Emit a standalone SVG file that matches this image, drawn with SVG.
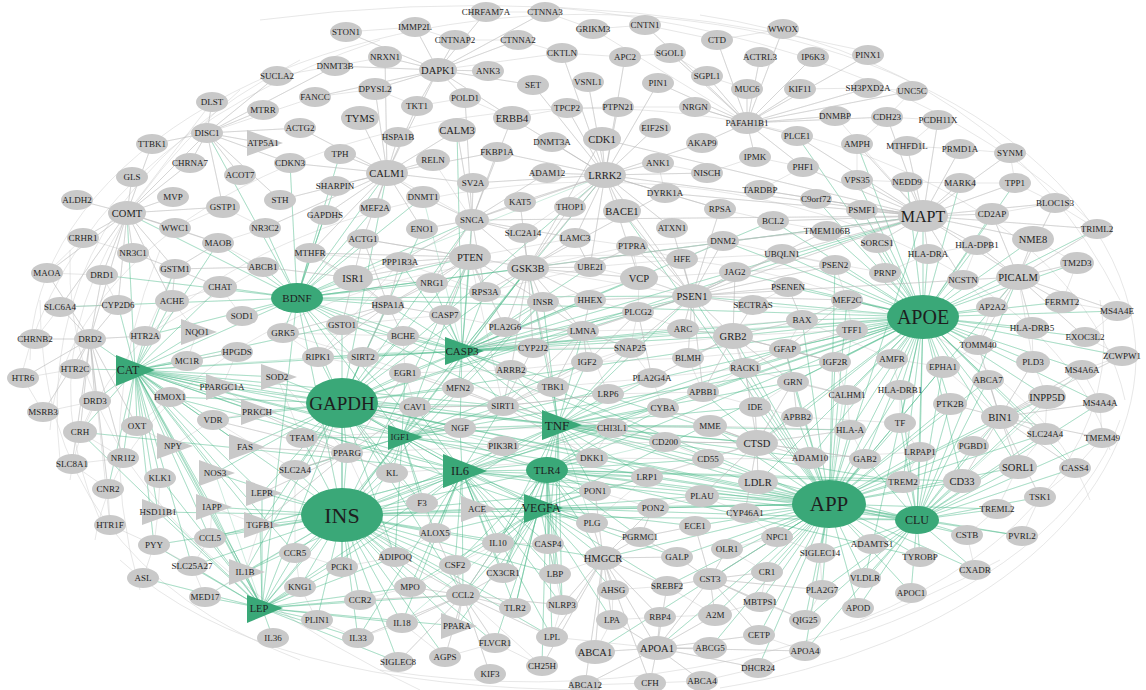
<svg xmlns="http://www.w3.org/2000/svg" width="1146" height="690" viewBox="0 0 1146 690">
<style>
.n ellipse,.n polygon{fill:#c9c9c9}
.h ellipse,.h polygon{fill:#3aa878}
text{font-family:"Liberation Serif","Times New Roman",serif;font-size:9px;text-anchor:middle;dominant-baseline:central;fill:#1e1e1e}
.m text{font-size:10.5px}
.g{fill:none;stroke:#4db88b;stroke-width:0.55;stroke-opacity:0.5;stroke-linejoin:round}
.e{fill:none;stroke:#b8b8b8;stroke-width:0.5;stroke-opacity:0.7;stroke-linejoin:round}
.a{fill:none;stroke:#d6d6d6;stroke-width:0.6}
</style>
<rect width="1146" height="690" fill="#ffffff"/>
<g id="connectors">
<path class="a" d="M30 360A552 345 0 0 1 1136 360"/>
<path class="a" d="M50 430A540 335 0 0 1 1125 400"/>
<path class="a" d="M70 480A525 325 0 0 1 1110 450"/>
<path class="a" d="M95 540A505 315 0 0 1 1090 500"/>
<path class="a" d="M1136 360A560 345 0 0 1 720 688"/>
<path class="a" d="M1120 420A540 320 0 0 1 840 640"/>
<path class="a" d="M1100 300A520 330 0 0 1 860 620"/>
<path class="a" d="M40 300Q40 560 300 660"/>
<path class="a" d="M70 250Q60 520 420 690"/>
<path class="a" d="M120 560Q260 690 600 690"/>
<path class="a" d="M20 380Q80 140 380 40"/>
<path class="a" d="M60 460Q30 200 300 60"/>
<path class="a" d="M100 520Q0 300 240 90"/>
<path class="a" d="M700 15Q1000 60 1120 300"/>
<path class="a" d="M560 8Q900 40 1100 230"/>
<path class="a" d="M260 20Q560 -20 860 50"/>
<path class="a" d="M140 590Q90 420 160 250"/>
<path class="a" d="M380 670Q700 720 1000 560"/>
<path class="g" d="M135 370L145 336L135 370L220 287L135 370L172 301L135 370L118 305L135 370L90 339L135 370L75 369L135 370L95 401L135 370L80 432L135 370L137 426L135 370L173 446L135 370L170 397L135 370L187 361L135 370L197 332L135 370L213 420L135 370L245 447L135 370L215 473L135 370L160 478L135 370L212 507L135 370L210 538L135 370L245 572L135 370L262 608L135 370L342 403L135 370L342 515L135 370L297 298L135 370L402 437L135 370L558 425L135 370L462 471L135 370L462 351L135 370L547 470L135 370L540 508L135 370L222 387L135 370L277 377L135 370L257 412L135 370L237 352L135 370L175 269L135 370L127 213L135 370L218 243L135 370L342 325L135 370L503 406L135 370L295 553L135 370L260 525L135 370L262 493L135 370L158 512L135 370L154 545L135 370L192 566L135 370L123 458L135 370L108 489L135 370L829 504L135 370L923 317"/>
<path class="g" d="M297 298L265 228L297 298L218 243L297 298L263 267L297 298L220 287L297 298L242 316L297 298L283 333L297 298L342 325L297 298L388 305L297 298L353 278L297 298L310 253L297 298L363 239L297 298L325 215L297 298L335 186L297 298L387 173L297 298L340 154L297 298L472 220L297 298L470 257L297 298L528 268L297 298L432 283L297 298L462 351L297 298L342 403L297 298L342 515L297 298L402 437L297 298L558 425L297 298L462 471L297 298L829 504L297 298L923 317L297 298L923 216L297 298L127 213L297 298L207 133L297 298L102 275L297 298L60 307L297 298L145 336L297 298L262 608L297 298L423 197L297 298L375 208L297 298L290 163L297 298L692 296L297 298L605 175"/>
<path class="g" d="M342 403L363 357L342 403L318 357L342 403L405 373L342 403L415 407L342 403L302 438L342 403L347 453L342 403L402 437L342 403L460 428L342 403L458 388L342 403L503 406L342 403L558 425L342 403L462 471L342 403L342 515L342 403L462 351L342 403L403 336L342 403L388 305L342 403L342 325L342 403L277 377L342 403L257 412L342 403L245 447L342 403L213 420L342 403L215 473L342 403L262 493L342 403L295 470L342 403L392 473L342 403L422 503L342 403L547 470L342 403L829 504L342 403L923 317L342 403L757 443L342 403L528 268L342 403L470 257L342 403L472 220L342 403L422 229L342 403L387 173L342 403L605 175L342 403L692 296L342 403L923 216L342 403L170 397L342 403L222 387L342 403L260 525L342 403L245 572L342 403L463 595L342 403L395 557L342 403L342 567L342 403L917 520L342 403L540 508L342 403L503 446"/>
<path class="g" d="M342 515L295 470L342 515L392 473L342 515L422 503L342 515L477 509L342 515L435 533L342 515L498 543L342 515L395 557L342 515L342 567L342 515L455 565L342 515L295 553L342 515L300 587L342 515L410 587L342 515L463 595L342 515L360 600L342 515L317 620L342 515L402 623L342 515L457 626L342 515L358 638L342 515L262 493L342 515L260 525L342 515L245 572L342 515L212 507L342 515L262 608L342 515L210 538L342 515L154 545L342 515L158 512L342 515L215 473L342 515L462 471L342 515L547 470L342 515L540 508L342 515L558 425L342 515L402 437L342 515L829 504L342 515L923 317L342 515L917 520L342 515L552 637L342 515L555 574L342 515L603 558L342 515L595 491L342 515L543 302L342 515L528 268L342 515L470 257L342 515L347 453L342 515L302 438L342 515L398 662L342 515L445 657L342 515L495 643L342 515L515 608L342 515L503 573L342 515L192 566L342 515L205 597"/>
<path class="g" d="M462 471L547 470L462 471L540 508L462 471L558 425L462 471L402 437L462 471L463 595L462 471L455 565L462 471L498 543L462 471L503 573L462 471L555 574L462 471L515 608L462 471L562 605L462 471L402 623L462 471L410 587L462 471L477 509L462 471L422 503L462 471L435 533L462 471L460 428L462 471L503 406L462 471L503 446L462 471L415 407L462 471L612 428L462 471L592 523L462 471L595 491L462 471L80 432L462 471L262 608L462 471L829 504L462 471L923 317L462 471L917 520L462 471L170 397L462 471L245 572L462 471L210 538L462 471L552 637L462 471L548 544L462 471L358 638L462 471L592 458L462 471L647 477L462 471L260 525"/>
<path class="g" d="M558 425L592 458L558 425L612 428L558 425L647 477L558 425L665 442L558 425L755 407L558 425L710 426L558 425L757 443L558 425L793 382L558 425L785 349L558 425L829 504L558 425L923 317L558 425L917 520L558 425L553 387L558 425L503 406L558 425L511 370L558 425L462 351L558 425L402 437L558 425L548 544L558 425L555 574L558 425L515 608L558 425L562 605L558 425L503 573L558 425L498 543L558 425L663 408L558 425L652 378L558 425L460 428L558 425L608 394L558 425L587 362L558 425L583 331L558 425L630 348L558 425L708 459L558 425L810 458L558 425L903 482L558 425L850 430L558 425L528 268L558 425L543 302L558 425L692 296L558 425L595 491L558 425L592 523"/>
<path class="g" d="M547 470L555 574L547 470L515 608L547 470L548 544L547 470L562 605L547 470L503 573L547 470L498 543L547 470L708 459L547 470L647 477L547 470L595 491L547 470L592 523L547 470L612 428L547 470L592 458L547 470L663 408L547 470L829 504L547 470L923 317L547 470L962 481L547 470L903 482L547 470L920 557L547 470L917 520L547 470L463 595L547 470L455 565L547 470L552 637L547 470L542 666L547 470L603 558L547 470L640 537L547 470L665 442"/>
<path class="g" d="M540 508L498 543L540 508L555 574L540 508L592 523L540 508L603 558L540 508L595 491L540 508L647 477L540 508L695 526L540 508L702 496L540 508L829 504L540 508L923 317L540 508L917 520L540 508L477 509L540 508L435 533L540 508L503 573L540 508L463 595L540 508L410 587L540 508L457 626L540 508L495 643L540 508L653 508L540 508L640 537L540 508L613 590L540 508L612 620L540 508L667 586L540 508L677 557L540 508L455 565L540 508L402 623"/>
<path class="g" d="M462 351L445 315L462 351L403 336L462 351L388 305L462 351L432 283L462 351L485 292L462 351L505 327L462 351L533 348L462 351L511 370L462 351L405 373L462 351L458 388L462 351L503 406L462 351L363 357L462 351L342 325L462 351L692 296L462 351L829 504L462 351L923 317L462 351L923 216L462 351L472 220L462 351L470 257L462 351L528 268L462 351L802 320L462 351L773 221L462 351L757 443L462 351L583 331L462 351L543 302L462 351L590 300L462 351L590 267L462 351L639 278L462 351L683 329L462 351L733 336L462 351L638 312L462 351L630 348L462 351L318 357L462 351L400 262L462 351L460 428L462 351L415 407L462 351L605 175L462 351L457 130L462 351L423 197"/>
<path class="g" d="M402 437L392 473L402 437L295 470L402 437L460 428L402 437L415 407L402 437L347 453L402 437L302 438L402 437L503 406L402 437L503 446L402 437L405 373L402 437L458 388L402 437L543 302L402 437L528 268L402 437L470 257L402 437L829 504L402 437L923 317L402 437L835 362L402 437L587 362L402 437L262 608L402 437L422 503L402 437L477 509L402 437L435 533L402 437L395 557L402 437L342 567"/>
<path class="g" d="M262 608L245 572L262 608L273 638L262 608L300 587L262 608L317 620L262 608L295 553L262 608L360 600L262 608L395 557L262 608L342 567L262 608L558 425L262 608L342 403L262 608L262 493L262 608L260 525L262 608L205 597L262 608L192 566L262 608L358 638L262 608L402 623L262 608L212 507L262 608L154 545L262 608L210 538L262 608L173 446L262 608L80 432L262 608L158 512L262 608L143 578L262 608L410 587L262 608L463 595L262 608L457 626L262 608L398 662L262 608L160 478L262 608L215 473"/>
<path class="g" d="M829 504L758 482L829 504L810 458L829 504L757 443L829 504L745 513L829 504L777 537L829 504L820 553L829 504L767 572L829 504L822 590L829 504L760 602L829 504L805 620L829 504L805 651L829 504L858 608L829 504L911 593L829 504L865 578L829 504L872 544L829 504L920 557L829 504L917 520L829 504L903 482L829 504L962 481L829 504L920 452L829 504L900 423L829 504L865 459L829 504L950 404L829 504L900 390L829 504L1000 417L829 504L1018 467L829 504L967 535L829 504L997 509L829 504L1018 277L829 504L923 317L829 504L692 296L829 504L835 265L829 504L622 211L829 504L923 216L829 504L793 382L829 504L703 392L829 504L797 417L829 504L755 407L829 504L710 426L829 504L702 496L829 504L727 549L829 504L710 579L829 504L715 615L829 504L759 635L829 504L758 668L829 504L647 477L829 504L835 362L829 504L847 395L829 504L850 430L829 504L733 336L829 504L745 368L829 504L695 526L829 504L653 508L829 504L677 557L829 504L667 586L829 504L603 558L829 504L595 652L829 504L657 648L829 504L710 648L829 504L988 380L829 504L943 367L829 504L973 446L829 504L1045 434L829 504L1047 397L829 504L1022 536L829 504L975 570L829 504L785 349L829 504L802 320L829 504L847 300L829 504L852 330"/>
<path class="g" d="M923 317L928 254L923 317L877 243L923 317L885 273L923 317L963 280L923 317L1018 277L923 317L992 307L923 317L978 345L923 317L892 359L923 317L943 367L923 317L900 390L923 317L977 245L923 317L1032 328L923 317L1062 302L923 317L1033 362L923 317L988 380L923 317L950 404L923 317L1000 417L923 317L900 423L923 317L917 520L923 317L923 216L923 317L692 296L923 317L835 265L923 317L788 287L923 317L847 300L923 317L852 330L923 317L835 362L923 317L785 349L923 317L802 320L923 317L782 254L923 317L827 231L923 317L816 199L923 317L857 180L923 317L907 182L923 317L862 210L923 317L992 214L923 317L960 183L923 317L758 482L923 317L757 443L923 317L810 458L923 317L733 336L923 317L1045 434L923 317L1047 397L923 317L1082 370L923 317L1100 403L923 317L903 482L923 317L962 481L923 317L1018 467L923 317L920 452L923 317L865 578L923 317L847 395L923 317L1097 229L923 317L1033 239L923 317L865 459L923 317L850 430L923 317L773 221L923 317L797 136L923 317L857 144L923 317L1015 183L923 317L1085 337L923 317L1117 311L923 317L1077 263L923 317L1122 356L923 317L1075 468L923 317L723 241L923 317L735 272L923 317L793 382L923 317L797 417L923 317L745 368L923 317L753 305"/>
<path class="g" d="M917 520L903 482L917 520L962 481L917 520L1018 467L917 520L1075 468L917 520L997 509L917 520L967 535L917 520L1022 536L917 520L920 557L917 520L911 593L917 520L975 570L917 520L865 578L917 520L872 544L917 520L858 608L917 520L1040 497L917 520L920 452L917 520L973 446L917 520L1000 417L917 520L1045 434L917 520L1102 438L917 520L1100 403L917 520L1047 397L917 520L950 404L917 520L900 390L917 520L900 423L917 520L805 651L917 520L805 620L917 520L822 590L917 520L820 553L917 520L865 459L917 520L988 380L917 520L943 367L917 520L1018 277L917 520L1082 370"/>
<path class="e" d="M923 216L862 210L923 216L907 182L923 216L960 183L923 216L992 214L923 216L857 180L923 216L816 199L923 216L827 231L923 216L760 190L923 216L803 167L923 216L1055 203L923 216L1015 183L923 216L1010 153L923 216L907 146L923 216L960 149L923 216L857 144L923 216L797 136L923 216L528 268L923 216L692 296L923 216L605 175L923 216L472 220L923 216L665 193L923 216L602 139L923 216L1018 277L923 216L963 280L923 216L928 254L923 216L977 245L923 216L877 243L923 216L1097 229L923 216L1033 239L923 216L782 254L923 216L773 221L923 216L887 117L923 216L938 120L923 216L835 116"/>
<path class="e" d="M605 175L602 139L605 175L655 128L605 175L658 163L605 175L665 193L605 175L622 211L605 175L570 207L605 175L547 173L605 175L552 142L605 175L618 107L605 175L588 82L605 175L625 57L605 175L567 108L605 175L472 220L605 175L528 268L605 175L692 296L605 175L639 278L605 175L520 202L605 175L672 228L605 175L720 209L605 175L707 173L605 175L702 143L605 175L658 83L605 175L562 53L605 175L533 85L605 175L512 118L605 175L497 152L605 175L473 183L605 175L590 267L605 175L575 238L605 175L523 233"/>
<path class="e" d="M387 173L340 154L387 173L398 137L387 173L360 118L387 173L433 160L387 173L473 183L387 173L423 197L387 173L335 186L387 173L375 208L387 173L325 215L387 173L422 229L387 173L300 128L387 173L290 163L387 173L417 106L387 173L375 89L387 173L457 130L387 173L497 152L387 173L385 57L387 173L438 70L387 173L280 200L387 173L265 228L387 173L363 239L387 173L310 253L387 173L472 220"/>
<path class="e" d="M472 220L520 202L472 220L523 233L472 220L422 229L472 220L423 197L472 220L473 183L472 220L470 257L472 220L400 262L472 220L432 283L472 220L485 292L472 220L528 268L472 220L575 238L472 220L547 173L472 220L497 152L472 220L457 130L472 220L465 98L472 220L512 118L472 220L433 160"/>
<path class="e" d="M127 213L77 200L127 213L132 177L127 213L173 197L127 213L175 228L127 213L83 238L127 213L133 253L127 213L102 275L127 213L47 273L127 213L175 269L127 213L218 243L127 213L223 207L127 213L152 144L127 213L190 163L127 213L207 133L127 213L60 307L127 213L118 305L127 213L90 339L127 213L172 301L127 213L212 102"/>
<path class="e" d="M207 133L212 102L207 133L263 110L207 133L152 144L207 133L190 163L207 133L263 143L207 133L240 175L207 133L277 76L207 133L300 128L207 133L290 163L207 133L223 207L207 133L280 200L207 133L335 66L207 133L315 97"/>
<path class="e" d="M692 296L835 265L692 296L788 287L692 296L682 259L692 296L735 272L692 296L639 278L692 296L683 329L692 296L733 336L692 296L638 312L692 296L753 305L692 296L688 358L692 296L630 348L692 296L590 300L692 296L723 241L692 296L782 254L692 296L632 246L692 296L963 280L692 296L703 392L692 296L720 209L692 296L672 228L692 296L622 211L692 296L847 300L692 296L827 231L692 296L583 331L692 296L528 268"/>
<path class="e" d="M757 443L755 407L757 443L710 426L757 443L708 459L757 443L810 458L757 443L758 482L757 443L745 513L757 443L797 417L757 443L745 368L757 443L793 382L757 443L665 442L757 443L663 408L757 443L850 430L757 443L865 459L757 443L702 496L757 443L647 477"/>
<path class="e" d="M733 336L785 349L733 336L802 320L733 336L745 368L733 336L688 358L733 336L683 329L733 336L703 392L733 336L753 305L733 336L735 272L733 336L835 362L733 336L652 378L733 336L793 382L733 336L755 407"/>
<path class="e" d="M1018 277L1033 239L1018 277L1077 263L1018 277L1062 302L1018 277L992 307L1018 277L1032 328L1018 277L963 280L1018 277L977 245L1018 277L992 214L1018 277L1055 203L1018 277L1097 229L1018 277L1117 311L1018 277L1085 337L1018 277L978 345L1018 277L1033 362"/>
<path class="e" d="M1000 417L1047 397L1000 417L1045 434L1000 417L1100 403L1000 417L1082 370L1000 417L1033 362L1000 417L988 380L1000 417L950 404L1000 417L973 446L1000 417L1018 467L1000 417L1075 468L1000 417L1102 438L1000 417L1122 356L1000 417L1040 497L1000 417L962 481L1000 417L978 345L1000 417L943 367"/>
<path class="e" d="M603 558L592 523L603 558L640 537L603 558L613 590L603 558L612 620L603 558L667 586L603 558L677 557L603 558L595 652L603 558L657 648L603 558L660 617L603 558L552 637L603 558L595 491L603 558L653 508L603 558L562 605L603 558L542 666L603 558L585 685L603 558L650 683L603 558L555 574"/>
<path class="e" d="M657 648L595 652L657 648L710 648L657 648L650 683L657 648L702 681L657 648L585 685L657 648L612 620L657 648L660 617L657 648L715 615L657 648L759 635L657 648L758 668L657 648L805 651L657 648L710 579L657 648L667 586L657 648L552 637"/>
<path class="e" d="M710 579L715 615L710 579L760 602L710 579L767 572L710 579L727 549L710 579L677 557L710 579L667 586L710 579L695 526L710 579L759 635L710 579L805 620L710 579L822 590L710 579L777 537"/>
<path class="e" d="M463 595L455 565L463 595L410 587L463 595L402 623L463 595L457 626L463 595L445 657L463 595L495 643L463 595L515 608L463 595L503 573L463 595L498 543L463 595L435 533L463 595L395 557L463 595L360 600L463 595L358 638L463 595L490 674L463 595L398 662L463 595L562 605L463 595L552 637L463 595L542 666"/>
<path class="e" d="M90 339L35 339L90 339L60 307L90 339L75 369L90 339L23 378L90 339L43 412L90 339L95 401L90 339L80 432L90 339L102 275L90 339L47 273L90 339L118 305L90 339L145 336L90 339L137 426L90 339L123 458L90 339L72 464L90 339L108 489L90 339L110 525"/>
<path class="e" d="M438 70L385 57L438 70L415 27L438 70L346 32L438 70L455 40L438 70L518 40L438 70L486 12L438 70L545 12L438 70L488 71L438 70L533 85L438 70L465 98L438 70L417 106L438 70L375 89L438 70L335 66L438 70L315 97L438 70L512 118L438 70L562 53"/>
<path class="e" d="M747 123L707 76L747 123L747 89L747 123L800 89L747 123L760 57L747 123L813 57L747 123L717 40L747 123L783 29L747 123L670 53L747 123L695 107L747 123L702 143L747 123L755 157L747 123L797 136L747 123L835 116L747 123L803 167L747 123L658 83L747 123L868 55L747 123L868 88L747 123L912 91L747 123L887 117L747 123L645 25L747 123L593 29"/>
<path class="e" d="M528 268L543 302L528 268L485 292L528 268L505 327L528 268L590 300L528 268L590 267L528 268L583 331L528 268L470 257L528 268L639 278L528 268L520 202L528 268L523 233L528 268L575 238L528 268L570 207L528 268L533 348L528 268L553 387L528 268L511 370L528 268L602 139L528 268L665 193L528 268L632 246"/>
<path class="e" d="M470 257L400 262L470 257L432 283L470 257L485 292L470 257L445 315L470 257L353 278L470 257L363 239L470 257L310 253L470 257L388 305L470 257L543 302L470 257L505 327L470 257L503 406"/>
<path class="e" d="M353 278L310 253L353 278L363 239L353 278L388 305L353 278L342 325L353 278L263 267L353 278L400 262L318 357L283 333L363 357L403 336L405 373L415 407L302 438L277 377L347 453L295 470L213 420L257 412L222 387L237 352L187 361L197 332L172 301L220 287L242 316"/>
<path class="e" d="M175 269L133 253L175 269L218 243L175 269L220 287L175 269L263 267L175 269L172 301L175 269L145 336L263 267L218 243L265 228L223 207L175 228L218 243M133 253L83 238L47 273L102 275L118 305L60 307L35 339M75 369L23 378L43 412L95 401L80 432L123 458L72 464L108 489L110 525L154 545L143 578M160 478L158 512L154 545L192 566L205 597L245 572L260 525L212 507L210 538L192 566M137 426L173 446L213 420M170 397L137 426"/>
<path class="e" d="M640 537L653 508L640 537L677 557L640 537L695 526L640 537L592 523L647 477L595 491L653 508L702 496L745 513L777 537L727 549L767 572L760 602L805 620L822 590L820 553L777 537M612 620L660 617L715 615L760 602M759 635L805 651L758 668L702 681L650 683L585 685M595 652L612 620L613 590L667 586L715 615"/>
<path class="e" d="M592 458L612 428L665 442L708 459L647 477M608 394L652 378L663 408L612 428M587 362L630 348L652 378M583 331L638 312L683 329M590 300L638 312L639 278L632 246L682 259L723 241L782 254L835 265L847 300L852 330L835 362L847 395L850 430L865 459M688 358L703 392L745 368L785 349L802 320L788 287L753 305"/>
<path class="e" d="M877 243L885 273L928 254L977 245L963 280L992 307L978 345L943 367L892 359L900 390L900 423L920 452L903 482M1033 239L1077 263L1062 302L1117 311L1085 337L1122 356L1082 370L1100 403L1102 438L1075 468L1040 497L1022 536M1032 328L1033 362L1047 397L1045 434L1018 467L997 509L967 535L975 570"/>
<path class="e" d="M800 89L868 88L912 91L887 117L938 120L907 146L960 149L1010 153L1015 183L960 183L907 182L857 180L857 144L887 117M1015 183L1055 203L1097 229M992 214L1055 203M816 199L760 190L803 167L755 157L707 173L658 163L665 193L720 209L773 221L827 231"/>
<path class="e" d="M486 12L545 12L593 29L645 25L717 40L783 29M346 32L415 27L455 40L518 40L562 53L625 57L670 53L707 76L747 89M277 76L335 66L385 57M315 97L375 89L417 106L465 98L512 118L567 108L618 107L695 107L747 123"/>
<path class="e" d="M295 553L300 587L317 620L358 638L402 623L445 657L495 643L542 666M360 600L410 587L455 565L498 543L548 544L555 574L562 605L552 637M295 470L295 553L342 567L395 557L435 533L422 503L392 473"/>
<path class="e" d="M363 239L470 257L575 238L632 246L723 241L827 231L877 243M310 253L400 262L485 292L590 267L682 259L782 254L885 273M353 278L432 283L543 302L639 278L735 272L835 265M342 325L445 315L505 327L583 331L683 329L802 320L892 359M283 333L403 336L533 348L630 348L733 336L852 330M318 357L405 373L511 370L587 362L688 358L785 349L835 362M363 357L458 388L553 387L652 378L745 368L847 395M415 407L503 406L608 394L703 392L797 417L900 423M302 438L460 428L612 428L710 426L850 430M347 453L503 446L665 442L757 443L865 459M392 473L592 458L708 459L810 458L920 452"/>
<path class="e" d="M503 406L553 387L503 406L608 394L503 406L612 428L503 406L460 428L503 406L458 388L503 406L511 370L503 406L533 348L503 406L405 373L503 406L415 407L503 406L592 458L503 406L583 331L503 406L587 362L503 406L630 348"/>
<path class="e" d="M347 453L302 438L347 453L295 470L347 453L392 473L347 453L415 407L347 453L405 373L347 453L262 493L347 453L213 420L347 453L257 412L347 453L245 447L347 453L260 525L347 453L395 557"/>
<path class="e" d="M388 305L342 325L388 305L403 336L388 305L432 283L388 305L400 262L388 305L445 315L388 305L363 357L388 305L318 357L388 305L283 333L388 305L363 239L388 305L310 253"/>
<path class="e" d="M583 331L533 348L583 331L587 362L583 331L630 348L583 331L590 300L583 331L543 302L583 331L505 327L583 331L553 387L583 331L608 394M638 312L587 362L638 312L652 378L638 312L630 348M590 267L575 238L590 267L632 246L590 267L639 278"/>
<path class="e" d="M785 349L835 362L785 349L793 382L785 349L847 300L785 349L852 330L785 349L745 368M802 320L847 300L802 320L788 287M793 382L797 417L793 382L847 395L793 382L755 407"/>
</g>
<g id="n-CHRFAM7A" class="n"><ellipse cx="486" cy="12" rx="16" ry="10"/><text x="486" y="12">CHRFAM7A</text></g>
<g id="n-CTNNA3" class="n"><ellipse cx="545" cy="12" rx="16" ry="10"/><text x="545" y="12">CTNNA3</text></g>
<g id="n-GRIKM3" class="n"><ellipse cx="593" cy="29" rx="16" ry="10"/><text x="593" y="29">GRIKM3</text></g>
<g id="n-CNTN1" class="n"><ellipse cx="645" cy="25" rx="16" ry="10"/><text x="645" y="25">CNTN1</text></g>
<g id="n-WWOX" class="n"><ellipse cx="783" cy="29" rx="16" ry="10"/><text x="783" y="29">WWOX</text></g>
<g id="n-IMMP2L" class="n"><ellipse cx="415" cy="27" rx="16" ry="10"/><text x="415" y="27">IMMP2L</text></g>
<g id="n-STON1" class="n"><ellipse cx="346" cy="32" rx="16" ry="10"/><text x="346" y="32">STON1</text></g>
<g id="n-CNTNAP2" class="n"><ellipse cx="455" cy="40" rx="16" ry="10"/><text x="455" y="40">CNTNAP2</text></g>
<g id="n-CTNNA2" class="n"><ellipse cx="518" cy="40" rx="16" ry="10"/><text x="518" y="40">CTNNA2</text></g>
<g id="n-CKTLN" class="n"><ellipse cx="562" cy="53" rx="16" ry="10"/><text x="562" y="53">CKTLN</text></g>
<g id="n-APC2" class="n"><ellipse cx="625" cy="57" rx="16" ry="10"/><text x="625" y="57">APC2</text></g>
<g id="n-SGOL1" class="n"><ellipse cx="670" cy="53" rx="16" ry="10"/><text x="670" y="53">SGOL1</text></g>
<g id="n-CTD" class="n"><ellipse cx="717" cy="40" rx="16" ry="10"/><text x="717" y="40">CTD</text></g>
<g id="n-ACTRL3" class="n"><ellipse cx="760" cy="57" rx="16" ry="10"/><text x="760" y="57">ACTRL3</text></g>
<g id="n-IP6K3" class="n"><ellipse cx="813" cy="57" rx="16" ry="10"/><text x="813" y="57">IP6K3</text></g>
<g id="n-PINX1" class="n"><ellipse cx="868" cy="55" rx="16" ry="10"/><text x="868" y="55">PINX1</text></g>
<g id="n-SGPL1" class="n"><ellipse cx="707" cy="76" rx="16" ry="10"/><text x="707" y="76">SGPL1</text></g>
<g id="n-MUC6" class="n"><ellipse cx="747" cy="89" rx="16" ry="10"/><text x="747" y="89">MUC6</text></g>
<g id="n-KIF11" class="n"><ellipse cx="800" cy="89" rx="16" ry="10"/><text x="800" y="89">KIF11</text></g>
<g id="n-SH3PXD2A" class="n"><ellipse cx="868" cy="88" rx="16" ry="10"/><text x="868" y="88">SH3PXD2A</text></g>
<g id="n-UNC5C" class="n"><ellipse cx="912" cy="91" rx="16" ry="10"/><text x="912" y="91">UNC5C</text></g>
<g id="n-VSNL1" class="n"><ellipse cx="588" cy="82" rx="16" ry="10"/><text x="588" y="82">VSNL1</text></g>
<g id="n-PIN1" class="n"><ellipse cx="658" cy="83" rx="16" ry="10"/><text x="658" y="83">PIN1</text></g>
<g id="n-SET" class="n"><ellipse cx="533" cy="85" rx="16" ry="10"/><text x="533" y="85">SET</text></g>
<g id="n-ANK3" class="n"><ellipse cx="488" cy="71" rx="16" ry="10"/><text x="488" y="71">ANK3</text></g>
<g id="n-DAPK1" class="n m"><ellipse cx="438" cy="70" rx="19" ry="12"/><text x="438" y="70">DAPK1</text></g>
<g id="n-NRXN1" class="n"><ellipse cx="385" cy="57" rx="17" ry="11"/><text x="385" y="57">NRXN1</text></g>
<g id="n-DNMT3B" class="n"><ellipse cx="335" cy="66" rx="16" ry="10"/><text x="335" y="66">DNMT3B</text></g>
<g id="n-SUCLA2" class="n"><ellipse cx="277" cy="76" rx="16" ry="10"/><text x="277" y="76">SUCLA2</text></g>
<g id="n-FANCC" class="n"><ellipse cx="315" cy="97" rx="16" ry="10"/><text x="315" y="97">FANCC</text></g>
<g id="n-DPYSL2" class="n"><ellipse cx="375" cy="89" rx="17" ry="11"/><text x="375" y="89">DPYSL2</text></g>
<g id="n-POLD1" class="n"><ellipse cx="465" cy="98" rx="16" ry="10"/><text x="465" y="98">POLD1</text></g>
<g id="n-TKT1" class="n"><ellipse cx="417" cy="106" rx="16" ry="10"/><text x="417" y="106">TKT1</text></g>
<g id="n-ERBB4" class="n m"><ellipse cx="512" cy="118" rx="19" ry="12"/><text x="512" y="118">ERBB4</text></g>
<g id="n-TPCP2" class="n"><ellipse cx="567" cy="108" rx="16" ry="10"/><text x="567" y="108">TPCP2</text></g>
<g id="n-PTPN21" class="n"><ellipse cx="618" cy="107" rx="16" ry="10"/><text x="618" y="107">PTPN21</text></g>
<g id="n-NRGN" class="n"><ellipse cx="695" cy="107" rx="16" ry="10"/><text x="695" y="107">NRGN</text></g>
<g id="n-PAFAH1B1" class="n"><ellipse cx="747" cy="123" rx="17" ry="11"/><text x="747" y="123">PAFAH1B1</text></g>
<g id="n-DNMBP" class="n"><ellipse cx="835" cy="116" rx="16" ry="10"/><text x="835" y="116">DNMBP</text></g>
<g id="n-CDH23" class="n"><ellipse cx="887" cy="117" rx="16" ry="10"/><text x="887" y="117">CDH23</text></g>
<g id="n-PCDH11X" class="n"><ellipse cx="938" cy="120" rx="16" ry="10"/><text x="938" y="120">PCDH11X</text></g>
<g id="n-SYNM" class="n"><ellipse cx="1010" cy="153" rx="16" ry="10"/><text x="1010" y="153">SYNM</text></g>
<g id="n-TPP1" class="n"><ellipse cx="1015" cy="183" rx="16" ry="10"/><text x="1015" y="183">TPP1</text></g>
<g id="n-MTHFD1L" class="n"><ellipse cx="907" cy="146" rx="16" ry="10"/><text x="907" y="146">MTHFD1L</text></g>
<g id="n-PRMD1A" class="n"><ellipse cx="960" cy="149" rx="16" ry="10"/><text x="960" y="149">PRMD1A</text></g>
<g id="n-AMPH" class="n"><ellipse cx="857" cy="144" rx="16" ry="10"/><text x="857" y="144">AMPH</text></g>
<g id="n-PLCE1" class="n"><ellipse cx="797" cy="136" rx="16" ry="10"/><text x="797" y="136">PLCE1</text></g>
<g id="n-EIF2S1" class="n"><ellipse cx="655" cy="128" rx="16" ry="10"/><text x="655" y="128">EIF2S1</text></g>
<g id="n-CDK1" class="n m"><ellipse cx="602" cy="139" rx="19" ry="12"/><text x="602" y="139">CDK1</text></g>
<g id="n-AKAP9" class="n"><ellipse cx="702" cy="143" rx="16" ry="10"/><text x="702" y="143">AKAP9</text></g>
<g id="n-IPMK" class="n"><ellipse cx="755" cy="157" rx="16" ry="10"/><text x="755" y="157">IPMK</text></g>
<g id="n-PHF1" class="n"><ellipse cx="803" cy="167" rx="16" ry="10"/><text x="803" y="167">PHF1</text></g>
<g id="n-ANK1" class="n"><ellipse cx="658" cy="163" rx="16" ry="10"/><text x="658" y="163">ANK1</text></g>
<g id="n-NISCH" class="n"><ellipse cx="707" cy="173" rx="16" ry="10"/><text x="707" y="173">NISCH</text></g>
<g id="n-LRRK2" class="n m"><ellipse cx="605" cy="175" rx="21" ry="13"/><text x="605" y="175">LRRK2</text></g>
<g id="n-DYRK1A" class="n"><ellipse cx="665" cy="193" rx="16" ry="10"/><text x="665" y="193">DYRK1A</text></g>
<g id="n-TARDBP" class="n"><ellipse cx="760" cy="190" rx="16" ry="10"/><text x="760" y="190">TARDBP</text></g>
<g id="n-C9orf72" class="n"><ellipse cx="816" cy="199" rx="16" ry="10"/><text x="816" y="199">C9orf72</text></g>
<g id="n-VPS35" class="n"><ellipse cx="857" cy="180" rx="16" ry="10"/><text x="857" y="180">VPS35</text></g>
<g id="n-NEDD9" class="n"><ellipse cx="907" cy="182" rx="16" ry="10"/><text x="907" y="182">NEDD9</text></g>
<g id="n-MARK4" class="n"><ellipse cx="960" cy="183" rx="16" ry="10"/><text x="960" y="183">MARK4</text></g>
<g id="n-PSMF1" class="n"><ellipse cx="862" cy="210" rx="16" ry="10"/><text x="862" y="210">PSMF1</text></g>
<g id="n-MAPT" class="n"><ellipse cx="923" cy="216" rx="25" ry="16"/><text x="923" y="216" style="font-size:16px">MAPT</text></g>
<g id="n-CD2AP" class="n"><ellipse cx="992" cy="214" rx="17" ry="11"/><text x="992" y="214">CD2AP</text></g>
<g id="n-BLOC1S3" class="n"><ellipse cx="1055" cy="203" rx="16" ry="10"/><text x="1055" y="203">BLOC1S3</text></g>
<g id="n-TRIML2" class="n"><ellipse cx="1097" cy="229" rx="16" ry="10"/><text x="1097" y="229">TRIML2</text></g>
<g id="n-BACE1" class="n m"><ellipse cx="622" cy="211" rx="19" ry="12"/><text x="622" y="211">BACE1</text></g>
<g id="n-RPSA" class="n"><ellipse cx="720" cy="209" rx="16" ry="10"/><text x="720" y="209">RPSA</text></g>
<g id="n-BCL2" class="n"><ellipse cx="773" cy="221" rx="16" ry="10"/><text x="773" y="221">BCL2</text></g>
<g id="n-TMEM106B" class="n"><ellipse cx="827" cy="231" rx="16" ry="10"/><text x="827" y="231">TMEM106B</text></g>
<g id="n-THOP1" class="n"><ellipse cx="570" cy="207" rx="16" ry="10"/><text x="570" y="207">THOP1</text></g>
<g id="n-ATXN1" class="n"><ellipse cx="672" cy="228" rx="16" ry="10"/><text x="672" y="228">ATXN1</text></g>
<g id="n-KAT5" class="n"><ellipse cx="520" cy="202" rx="16" ry="10"/><text x="520" y="202">KAT5</text></g>
<g id="n-SLC2A14" class="n"><ellipse cx="523" cy="233" rx="16" ry="10"/><text x="523" y="233">SLC2A14</text></g>
<g id="n-ADAM12" class="n"><ellipse cx="547" cy="173" rx="16" ry="10"/><text x="547" y="173">ADAM12</text></g>
<g id="n-DNMT3A" class="n"><ellipse cx="552" cy="142" rx="16" ry="10"/><text x="552" y="142">DNMT3A</text></g>
<g id="n-FKBP1A" class="n"><ellipse cx="497" cy="152" rx="16" ry="10"/><text x="497" y="152">FKBP1A</text></g>
<g id="n-CALM3" class="n m"><ellipse cx="457" cy="130" rx="19" ry="12"/><text x="457" y="130">CALM3</text></g>
<g id="n-HSPA1B" class="n"><ellipse cx="398" cy="137" rx="16" ry="10"/><text x="398" y="137">HSPA1B</text></g>
<g id="n-TYMS" class="n m"><ellipse cx="360" cy="118" rx="19" ry="12"/><text x="360" y="118">TYMS</text></g>
<g id="n-ACTG2" class="n"><ellipse cx="300" cy="128" rx="16" ry="10"/><text x="300" y="128">ACTG2</text></g>
<g id="n-TPH" class="n"><ellipse cx="340" cy="154" rx="16" ry="10"/><text x="340" y="154">TPH</text></g>
<g id="n-RELN" class="n"><ellipse cx="433" cy="160" rx="17" ry="11"/><text x="433" y="160">RELN</text></g>
<g id="n-CALM1" class="n m"><ellipse cx="387" cy="173" rx="21" ry="13"/><text x="387" y="173">CALM1</text></g>
<g id="n-SV2A" class="n"><ellipse cx="473" cy="183" rx="16" ry="10"/><text x="473" y="183">SV2A</text></g>
<g id="n-DNMT1" class="n"><ellipse cx="423" cy="197" rx="17" ry="11"/><text x="423" y="197">DNMT1</text></g>
<g id="n-SHARPIN" class="n"><ellipse cx="335" cy="186" rx="16" ry="10"/><text x="335" y="186">SHARPIN</text></g>
<g id="n-MEF2A" class="n"><ellipse cx="375" cy="208" rx="16" ry="10"/><text x="375" y="208">MEF2A</text></g>
<g id="n-SNCA" class="n"><ellipse cx="472" cy="220" rx="17" ry="11"/><text x="472" y="220">SNCA</text></g>
<g id="n-ENO1" class="n"><ellipse cx="422" cy="229" rx="16" ry="10"/><text x="422" y="229">ENO1</text></g>
<g id="n-GAPDHS" class="n"><ellipse cx="325" cy="215" rx="16" ry="10"/><text x="325" y="215">GAPDHS</text></g>
<g id="n-CDKN3" class="n"><ellipse cx="290" cy="163" rx="16" ry="10"/><text x="290" y="163">CDKN3</text></g>
<g id="n-STH" class="n"><ellipse cx="280" cy="200" rx="16" ry="10"/><text x="280" y="200">STH</text></g>
<g id="n-ACOT7" class="n"><ellipse cx="240" cy="175" rx="16" ry="10"/><text x="240" y="175">ACOT7</text></g>
<g id="n-ATP5A1" class="n"><polygon points="247,130 247,156 283,143"/><text x="263" y="143">ATP5A1</text></g>
<g id="n-DLST" class="n"><ellipse cx="212" cy="102" rx="16" ry="10"/><text x="212" y="102">DLST</text></g>
<g id="n-MTRR" class="n"><ellipse cx="263" cy="110" rx="16" ry="10"/><text x="263" y="110">MTRR</text></g>
<g id="n-DISC1" class="n"><ellipse cx="207" cy="133" rx="16" ry="10"/><text x="207" y="133">DISC1</text></g>
<g id="n-TTBK1" class="n"><ellipse cx="152" cy="144" rx="16" ry="10"/><text x="152" y="144">TTBK1</text></g>
<g id="n-CHRNA7" class="n"><ellipse cx="190" cy="163" rx="16" ry="10"/><text x="190" y="163">CHRNA7</text></g>
<g id="n-GLS" class="n"><ellipse cx="132" cy="177" rx="16" ry="10"/><text x="132" y="177">GLS</text></g>
<g id="n-ALDH2" class="n"><ellipse cx="77" cy="200" rx="16" ry="10"/><text x="77" y="200">ALDH2</text></g>
<g id="n-MVP" class="n"><ellipse cx="173" cy="197" rx="16" ry="10"/><text x="173" y="197">MVP</text></g>
<g id="n-COMT" class="n m"><ellipse cx="127" cy="213" rx="19" ry="12"/><text x="127" y="213">COMT</text></g>
<g id="n-GSTP1" class="n"><ellipse cx="223" cy="207" rx="17" ry="11"/><text x="223" y="207">GSTP1</text></g>
<g id="n-WWC1" class="n"><ellipse cx="175" cy="228" rx="16" ry="10"/><text x="175" y="228">WWC1</text></g>
<g id="n-NR3C2" class="n"><ellipse cx="265" cy="228" rx="16" ry="10"/><text x="265" y="228">NR3C2</text></g>
<g id="n-CRHR1" class="n"><ellipse cx="83" cy="238" rx="16" ry="10"/><text x="83" y="238">CRHR1</text></g>
<g id="n-NR3C1" class="n"><ellipse cx="133" cy="253" rx="16" ry="10"/><text x="133" y="253">NR3C1</text></g>
<g id="n-MAOA" class="n"><ellipse cx="47" cy="273" rx="16" ry="10"/><text x="47" y="273">MAOA</text></g>
<g id="n-DRD1" class="n"><ellipse cx="102" cy="275" rx="16" ry="10"/><text x="102" y="275">DRD1</text></g>
<g id="n-GSTM1" class="n"><ellipse cx="175" cy="269" rx="16" ry="10"/><text x="175" y="269">GSTM1</text></g>
<g id="n-MAOB" class="n"><ellipse cx="218" cy="243" rx="16" ry="10"/><text x="218" y="243">MAOB</text></g>
<g id="n-ABCB1" class="n"><ellipse cx="263" cy="267" rx="16" ry="10"/><text x="263" y="267">ABCB1</text></g>
<g id="n-CHAT" class="n"><ellipse cx="220" cy="287" rx="17" ry="11"/><text x="220" y="287">CHAT</text></g>
<g id="n-ACHE" class="n"><ellipse cx="172" cy="301" rx="17" ry="11"/><text x="172" y="301">ACHE</text></g>
<g id="n-SLC6A4" class="n"><ellipse cx="60" cy="307" rx="16" ry="10"/><text x="60" y="307">SLC6A4</text></g>
<g id="n-CYP2D6" class="n"><ellipse cx="118" cy="305" rx="16" ry="10"/><text x="118" y="305">CYP2D6</text></g>
<g id="n-SOD1" class="n"><ellipse cx="242" cy="316" rx="16" ry="10"/><text x="242" y="316">SOD1</text></g>
<g id="n-CHRNB2" class="n"><ellipse cx="35" cy="339" rx="16" ry="10"/><text x="35" y="339">CHRNB2</text></g>
<g id="n-DRD2" class="n"><ellipse cx="90" cy="339" rx="16" ry="10"/><text x="90" y="339">DRD2</text></g>
<g id="n-HTR2A" class="n"><ellipse cx="145" cy="336" rx="16" ry="10"/><text x="145" y="336">HTR2A</text></g>
<g id="n-NQO1" class="n"><polygon points="181,319 181,345 217,332"/><text x="197" y="332">NQO1</text></g>
<g id="n-HPGDS" class="n"><ellipse cx="237" cy="352" rx="16" ry="10"/><text x="237" y="352">HPGDS</text></g>
<g id="n-GRK5" class="n"><ellipse cx="283" cy="333" rx="16" ry="10"/><text x="283" y="333">GRK5</text></g>
<g id="n-MC1R" class="n"><ellipse cx="187" cy="361" rx="16" ry="10"/><text x="187" y="361">MC1R</text></g>
<g id="n-HTR2C" class="n"><ellipse cx="75" cy="369" rx="16" ry="10"/><text x="75" y="369">HTR2C</text></g>
<g id="n-HTR6" class="n"><ellipse cx="23" cy="378" rx="16" ry="10"/><text x="23" y="378">HTR6</text></g>
<g id="n-SOD2" class="n"><polygon points="261,364 261,390 297,377"/><text x="277" y="377">SOD2</text></g>
<g id="n-PPARGC1A" class="n"><polygon points="206,374 206,400 242,387"/><text x="222" y="387">PPARGC1A</text></g>
<g id="n-HMOX1" class="n"><ellipse cx="170" cy="397" rx="16" ry="10"/><text x="170" y="397">HMOX1</text></g>
<g id="n-DRD3" class="n"><ellipse cx="95" cy="401" rx="16" ry="10"/><text x="95" y="401">DRD3</text></g>
<g id="n-MSRB3" class="n"><ellipse cx="43" cy="412" rx="16" ry="10"/><text x="43" y="412">MSRB3</text></g>
<g id="n-PRKCH" class="n"><polygon points="241,399 241,425 277,412"/><text x="257" y="412">PRKCH</text></g>
<g id="n-VDR" class="n"><ellipse cx="213" cy="420" rx="16" ry="10"/><text x="213" y="420">VDR</text></g>
<g id="n-OXT" class="n"><ellipse cx="137" cy="426" rx="16" ry="10"/><text x="137" y="426">OXT</text></g>
<g id="n-CRH" class="n"><ellipse cx="80" cy="432" rx="17" ry="11"/><text x="80" y="432">CRH</text></g>
<g id="n-NPY" class="n"><polygon points="157,433 157,459 193,446"/><text x="173" y="446">NPY</text></g>
<g id="n-FAS" class="n"><polygon points="229,434 229,460 265,447"/><text x="245" y="447">FAS</text></g>
<g id="n-NR1I2" class="n"><ellipse cx="123" cy="458" rx="16" ry="10"/><text x="123" y="458">NR1I2</text></g>
<g id="n-SLC8A1" class="n"><ellipse cx="72" cy="464" rx="16" ry="10"/><text x="72" y="464">SLC8A1</text></g>
<g id="n-KLK1" class="n"><ellipse cx="160" cy="478" rx="16" ry="10"/><text x="160" y="478">KLK1</text></g>
<g id="n-NOS3" class="n"><polygon points="199,460 199,486 235,473"/><text x="215" y="473">NOS3</text></g>
<g id="n-CNR2" class="n"><ellipse cx="108" cy="489" rx="16" ry="10"/><text x="108" y="489">CNR2</text></g>
<g id="n-LEPR" class="n"><polygon points="246,480 246,506 282,493"/><text x="262" y="493">LEPR</text></g>
<g id="n-IAPP" class="n"><polygon points="196,494 196,520 232,507"/><text x="212" y="507">IAPP</text></g>
<g id="n-HSD11B1" class="n"><polygon points="142,499 142,525 178,512"/><text x="158" y="512">HSD11B1</text></g>
<g id="n-TGFB1" class="n"><polygon points="244,512 244,538 280,525"/><text x="260" y="525">TGFB1</text></g>
<g id="n-HTR1F" class="n"><ellipse cx="110" cy="525" rx="16" ry="10"/><text x="110" y="525">HTR1F</text></g>
<g id="n-CCL5" class="n"><ellipse cx="210" cy="538" rx="16" ry="10"/><text x="210" y="538">CCL5</text></g>
<g id="n-PYY" class="n"><ellipse cx="154" cy="545" rx="16" ry="10"/><text x="154" y="545">PYY</text></g>
<g id="n-SLC25A27" class="n"><ellipse cx="192" cy="566" rx="16" ry="10"/><text x="192" y="566">SLC25A27</text></g>
<g id="n-IL1B" class="n"><polygon points="229,559 229,585 265,572"/><text x="245" y="572">IL1B</text></g>
<g id="n-ASL" class="n"><ellipse cx="143" cy="578" rx="16" ry="10"/><text x="143" y="578">ASL</text></g>
<g id="n-MED17" class="n"><ellipse cx="205" cy="597" rx="16" ry="10"/><text x="205" y="597">MED17</text></g>
<g id="n-IL36" class="n"><ellipse cx="273" cy="638" rx="16" ry="10"/><text x="273" y="638">IL36</text></g>
<g id="n-ACTG1" class="n"><ellipse cx="363" cy="239" rx="16" ry="10"/><text x="363" y="239">ACTG1</text></g>
<g id="n-MTHFR" class="n"><ellipse cx="310" cy="253" rx="16" ry="10"/><text x="310" y="253">MTHFR</text></g>
<g id="n-PPP1R3A" class="n"><ellipse cx="400" cy="262" rx="16" ry="10"/><text x="400" y="262">PPP1R3A</text></g>
<g id="n-PTEN" class="n m"><ellipse cx="470" cy="257" rx="21" ry="13"/><text x="470" y="257">PTEN</text></g>
<g id="n-GSK3B" class="n m"><ellipse cx="528" cy="268" rx="21" ry="13"/><text x="528" y="268">GSK3B</text></g>
<g id="n-LAMC3" class="n"><ellipse cx="575" cy="238" rx="16" ry="10"/><text x="575" y="238">LAMC3</text></g>
<g id="n-ISR1" class="n m"><ellipse cx="353" cy="278" rx="20" ry="13"/><text x="353" y="278">ISR1</text></g>
<g id="n-NRG1" class="n"><ellipse cx="432" cy="283" rx="16" ry="10"/><text x="432" y="283">NRG1</text></g>
<g id="n-RPS3A" class="n"><ellipse cx="485" cy="292" rx="16" ry="10"/><text x="485" y="292">RPS3A</text></g>
<g id="n-INSR" class="n"><ellipse cx="543" cy="302" rx="16" ry="10"/><text x="543" y="302">INSR</text></g>
<g id="n-HSPA1A" class="n"><ellipse cx="388" cy="305" rx="16" ry="10"/><text x="388" y="305">HSPA1A</text></g>
<g id="n-CASP7" class="n"><ellipse cx="445" cy="315" rx="16" ry="10"/><text x="445" y="315">CASP7</text></g>
<g id="n-PLA2G6" class="n"><ellipse cx="505" cy="327" rx="16" ry="10"/><text x="505" y="327">PLA2G6</text></g>
<g id="n-GSTO1" class="n"><ellipse cx="342" cy="325" rx="16" ry="10"/><text x="342" y="325">GSTO1</text></g>
<g id="n-BCHE" class="n"><ellipse cx="403" cy="336" rx="16" ry="10"/><text x="403" y="336">BCHE</text></g>
<g id="n-CYP2J2" class="n"><ellipse cx="533" cy="348" rx="16" ry="10"/><text x="533" y="348">CYP2J2</text></g>
<g id="n-RIPK1" class="n"><ellipse cx="318" cy="357" rx="16" ry="10"/><text x="318" y="357">RIPK1</text></g>
<g id="n-SIRT2" class="n"><ellipse cx="363" cy="357" rx="16" ry="10"/><text x="363" y="357">SIRT2</text></g>
<g id="n-EGR1" class="n"><ellipse cx="405" cy="373" rx="16" ry="10"/><text x="405" y="373">EGR1</text></g>
<g id="n-ARRB2" class="n"><ellipse cx="511" cy="370" rx="16" ry="10"/><text x="511" y="370">ARRB2</text></g>
<g id="n-MFN2" class="n"><ellipse cx="458" cy="388" rx="16" ry="10"/><text x="458" y="388">MFN2</text></g>
<g id="n-TBK1" class="n"><ellipse cx="553" cy="387" rx="16" ry="10"/><text x="553" y="387">TBK1</text></g>
<g id="n-CAV1" class="n"><ellipse cx="415" cy="407" rx="16" ry="10"/><text x="415" y="407">CAV1</text></g>
<g id="n-SIRT1" class="n"><ellipse cx="503" cy="406" rx="16" ry="10"/><text x="503" y="406">SIRT1</text></g>
<g id="n-TFAM" class="n"><ellipse cx="302" cy="438" rx="16" ry="10"/><text x="302" y="438">TFAM</text></g>
<g id="n-NGF" class="n"><ellipse cx="460" cy="428" rx="16" ry="10"/><text x="460" y="428">NGF</text></g>
<g id="n-PIK3R1" class="n"><ellipse cx="503" cy="446" rx="16" ry="10"/><text x="503" y="446">PIK3R1</text></g>
<g id="n-PPARG" class="n"><ellipse cx="347" cy="453" rx="16" ry="10"/><text x="347" y="453">PPARG</text></g>
<g id="n-DNM2" class="n"><ellipse cx="723" cy="241" rx="16" ry="10"/><text x="723" y="241">DNM2</text></g>
<g id="n-PTPRA" class="n"><ellipse cx="632" cy="246" rx="16" ry="10"/><text x="632" y="246">PTPRA</text></g>
<g id="n-UBQLN1" class="n"><ellipse cx="782" cy="254" rx="16" ry="10"/><text x="782" y="254">UBQLN1</text></g>
<g id="n-HFE" class="n"><ellipse cx="682" cy="259" rx="16" ry="10"/><text x="682" y="259">HFE</text></g>
<g id="n-UBE2I" class="n"><ellipse cx="590" cy="267" rx="16" ry="10"/><text x="590" y="267">UBE2I</text></g>
<g id="n-JAG2" class="n"><ellipse cx="735" cy="272" rx="16" ry="10"/><text x="735" y="272">JAG2</text></g>
<g id="n-PSEN2" class="n"><ellipse cx="835" cy="265" rx="16" ry="10"/><text x="835" y="265">PSEN2</text></g>
<g id="n-VCP" class="n m"><ellipse cx="639" cy="278" rx="19" ry="12"/><text x="639" y="278">VCP</text></g>
<g id="n-PSENEN" class="n"><ellipse cx="788" cy="287" rx="16" ry="10"/><text x="788" y="287">PSENEN</text></g>
<g id="n-MEF2C" class="n"><ellipse cx="847" cy="300" rx="16" ry="10"/><text x="847" y="300">MEF2C</text></g>
<g id="n-HHEX" class="n"><ellipse cx="590" cy="300" rx="16" ry="10"/><text x="590" y="300">HHEX</text></g>
<g id="n-PSEN1" class="n m"><ellipse cx="692" cy="296" rx="20" ry="12"/><text x="692" y="296">PSEN1</text></g>
<g id="n-SEC7RAS" class="n"><ellipse cx="753" cy="305" rx="16" ry="10"/><text x="753" y="305">SECTRAS</text></g>
<g id="n-PLCG2" class="n"><ellipse cx="638" cy="312" rx="16" ry="10"/><text x="638" y="312">PLCG2</text></g>
<g id="n-BAX" class="n"><ellipse cx="802" cy="320" rx="16" ry="10"/><text x="802" y="320">BAX</text></g>
<g id="n-LMNA" class="n"><ellipse cx="583" cy="331" rx="16" ry="10"/><text x="583" y="331">LMNA</text></g>
<g id="n-ARC" class="n"><ellipse cx="683" cy="329" rx="16" ry="10"/><text x="683" y="329">ARC</text></g>
<g id="n-GRB2" class="n m"><ellipse cx="733" cy="336" rx="20" ry="13"/><text x="733" y="336">GRB2</text></g>
<g id="n-TFF1" class="n"><ellipse cx="852" cy="330" rx="16" ry="10"/><text x="852" y="330">TFF1</text></g>
<g id="n-SNAP25" class="n"><ellipse cx="630" cy="348" rx="16" ry="10"/><text x="630" y="348">SNAP25</text></g>
<g id="n-GFAP" class="n"><ellipse cx="785" cy="349" rx="16" ry="10"/><text x="785" y="349">GFAP</text></g>
<g id="n-BLMH" class="n"><ellipse cx="688" cy="358" rx="16" ry="10"/><text x="688" y="358">BLMH</text></g>
<g id="n-IGF2R" class="n"><ellipse cx="835" cy="362" rx="16" ry="10"/><text x="835" y="362">IGF2R</text></g>
<g id="n-IGF2" class="n"><ellipse cx="587" cy="362" rx="16" ry="10"/><text x="587" y="362">IGF2</text></g>
<g id="n-RACK1" class="n"><ellipse cx="745" cy="368" rx="16" ry="10"/><text x="745" y="368">RACK1</text></g>
<g id="n-PLA2G4A" class="n"><ellipse cx="652" cy="378" rx="16" ry="10"/><text x="652" y="378">PLA2G4A</text></g>
<g id="n-GRN" class="n"><ellipse cx="793" cy="382" rx="16" ry="10"/><text x="793" y="382">GRN</text></g>
<g id="n-CALHM1" class="n"><ellipse cx="847" cy="395" rx="16" ry="10"/><text x="847" y="395">CALHM1</text></g>
<g id="n-APBB1" class="n"><ellipse cx="703" cy="392" rx="16" ry="10"/><text x="703" y="392">APBB1</text></g>
<g id="n-LRP6" class="n"><ellipse cx="608" cy="394" rx="16" ry="10"/><text x="608" y="394">LRP6</text></g>
<g id="n-IDE" class="n"><ellipse cx="755" cy="407" rx="16" ry="10"/><text x="755" y="407">IDE</text></g>
<g id="n-CYBA" class="n"><ellipse cx="663" cy="408" rx="16" ry="10"/><text x="663" y="408">CYBA</text></g>
<g id="n-APBB2" class="n"><ellipse cx="797" cy="417" rx="16" ry="10"/><text x="797" y="417">APBB2</text></g>
<g id="n-CHI3L1" class="n"><ellipse cx="612" cy="428" rx="16" ry="10"/><text x="612" y="428">CHI3L1</text></g>
<g id="n-MME" class="n"><ellipse cx="710" cy="426" rx="17" ry="11"/><text x="710" y="426">MME</text></g>
<g id="n-HLA-A" class="n"><ellipse cx="850" cy="430" rx="16" ry="10"/><text x="850" y="430">HLA-A</text></g>
<g id="n-CTSD" class="n m"><ellipse cx="757" cy="443" rx="21" ry="13"/><text x="757" y="443">CTSD</text></g>
<g id="n-CD200" class="n"><ellipse cx="665" cy="442" rx="16" ry="10"/><text x="665" y="442">CD200</text></g>
<g id="n-DKK1" class="n"><ellipse cx="592" cy="458" rx="16" ry="10"/><text x="592" y="458">DKK1</text></g>
<g id="n-CD55" class="n"><ellipse cx="708" cy="459" rx="16" ry="10"/><text x="708" y="459">CD55</text></g>
<g id="n-ADAM10" class="n"><ellipse cx="810" cy="458" rx="17" ry="11"/><text x="810" y="458">ADAM10</text></g>
<g id="n-GAB2" class="n"><ellipse cx="865" cy="459" rx="16" ry="10"/><text x="865" y="459">GAB2</text></g>
<g id="n-SORCS1" class="n"><ellipse cx="877" cy="243" rx="16" ry="10"/><text x="877" y="243">SORCS1</text></g>
<g id="n-HLA-DPB1" class="n"><ellipse cx="977" cy="245" rx="16" ry="10"/><text x="977" y="245">HLA-DPB1</text></g>
<g id="n-NME8" class="n m"><ellipse cx="1033" cy="239" rx="21" ry="13"/><text x="1033" y="239">NME8</text></g>
<g id="n-HLA-DRA" class="n"><ellipse cx="928" cy="254" rx="16" ry="10"/><text x="928" y="254">HLA-DRA</text></g>
<g id="n-TM2D3" class="n"><ellipse cx="1077" cy="263" rx="17" ry="11"/><text x="1077" y="263">TM2D3</text></g>
<g id="n-PRNP" class="n"><ellipse cx="885" cy="273" rx="16" ry="10"/><text x="885" y="273">PRNP</text></g>
<g id="n-NCSTN" class="n"><ellipse cx="963" cy="280" rx="16" ry="10"/><text x="963" y="280">NCSTN</text></g>
<g id="n-PICALM" class="n m"><ellipse cx="1018" cy="277" rx="22" ry="13"/><text x="1018" y="277">PICALM</text></g>
<g id="n-AP2A2" class="n"><ellipse cx="992" cy="307" rx="16" ry="10"/><text x="992" y="307">AP2A2</text></g>
<g id="n-FERMT2" class="n"><ellipse cx="1062" cy="302" rx="17" ry="11"/><text x="1062" y="302">FERMT2</text></g>
<g id="n-MS4A4E" class="n"><ellipse cx="1117" cy="311" rx="16" ry="10"/><text x="1117" y="311">MS4A4E</text></g>
<g id="n-HLA-DRB5" class="n"><ellipse cx="1032" cy="328" rx="17" ry="11"/><text x="1032" y="328">HLA-DRB5</text></g>
<g id="n-EXOC3L2" class="n"><ellipse cx="1085" cy="337" rx="16" ry="10"/><text x="1085" y="337">EXOC3L2</text></g>
<g id="n-TOMM40" class="n"><ellipse cx="978" cy="345" rx="16" ry="10"/><text x="978" y="345">TOMM40</text></g>
<g id="n-ZCWPW1" class="n"><ellipse cx="1122" cy="356" rx="17" ry="10"/><text x="1122" y="356">ZCWPW1</text></g>
<g id="n-AMFR" class="n"><ellipse cx="892" cy="359" rx="16" ry="10"/><text x="892" y="359">AMFR</text></g>
<g id="n-EPHA1" class="n"><ellipse cx="943" cy="367" rx="17" ry="11"/><text x="943" y="367">EPHA1</text></g>
<g id="n-PLD3" class="n"><ellipse cx="1033" cy="362" rx="17" ry="11"/><text x="1033" y="362">PLD3</text></g>
<g id="n-MS4A6A" class="n"><ellipse cx="1082" cy="370" rx="16" ry="10"/><text x="1082" y="370">MS4A6A</text></g>
<g id="n-ABCA7" class="n"><ellipse cx="988" cy="380" rx="16" ry="10"/><text x="988" y="380">ABCA7</text></g>
<g id="n-HLA-DRB1" class="n"><ellipse cx="900" cy="390" rx="16" ry="10"/><text x="900" y="390">HLA-DRB1</text></g>
<g id="n-PTK2B" class="n"><ellipse cx="950" cy="404" rx="17" ry="11"/><text x="950" y="404">PTK2B</text></g>
<g id="n-INPP5D" class="n m"><ellipse cx="1047" cy="397" rx="19" ry="12"/><text x="1047" y="397">INPP5D</text></g>
<g id="n-MS4A4A" class="n"><ellipse cx="1100" cy="403" rx="16" ry="10"/><text x="1100" y="403">MS4A4A</text></g>
<g id="n-BIN1" class="n m"><ellipse cx="1000" cy="417" rx="19" ry="12"/><text x="1000" y="417">BIN1</text></g>
<g id="n-TF" class="n"><ellipse cx="900" cy="423" rx="16" ry="10"/><text x="900" y="423">TF</text></g>
<g id="n-SLC24A4" class="n"><ellipse cx="1045" cy="434" rx="17" ry="11"/><text x="1045" y="434">SLC24A4</text></g>
<g id="n-TMEM49" class="n"><ellipse cx="1102" cy="438" rx="16" ry="10"/><text x="1102" y="438">TMEM49</text></g>
<g id="n-PGBD1" class="n"><ellipse cx="973" cy="446" rx="16" ry="10"/><text x="973" y="446">PGBD1</text></g>
<g id="n-LRPAP1" class="n"><ellipse cx="920" cy="452" rx="16" ry="10"/><text x="920" y="452">LRPAP1</text></g>
<g id="n-CD33" class="n m"><ellipse cx="962" cy="481" rx="19" ry="12"/><text x="962" y="481">CD33</text></g>
<g id="n-TREM2" class="n"><ellipse cx="903" cy="482" rx="17" ry="11"/><text x="903" y="482">TREM2</text></g>
<g id="n-SORL1" class="n m"><ellipse cx="1018" cy="467" rx="19" ry="12"/><text x="1018" y="467">SORL1</text></g>
<g id="n-CASS4" class="n"><ellipse cx="1075" cy="468" rx="16" ry="10"/><text x="1075" y="468">CASS4</text></g>
<g id="n-TSK1" class="n"><ellipse cx="1040" cy="497" rx="16" ry="10"/><text x="1040" y="497">TSK1</text></g>
<g id="n-TREML2" class="n"><ellipse cx="997" cy="509" rx="16" ry="10"/><text x="997" y="509">TREML2</text></g>
<g id="n-CSTB" class="n"><ellipse cx="967" cy="535" rx="16" ry="10"/><text x="967" y="535">CSTB</text></g>
<g id="n-PVRL2" class="n"><ellipse cx="1022" cy="536" rx="16" ry="10"/><text x="1022" y="536">PVRL2</text></g>
<g id="n-ADAMTS1" class="n"><ellipse cx="872" cy="544" rx="16" ry="10"/><text x="872" y="544">ADAMTS1</text></g>
<g id="n-TYROBP" class="n"><ellipse cx="920" cy="557" rx="16" ry="10"/><text x="920" y="557">TYROBP</text></g>
<g id="n-CXADR" class="n"><ellipse cx="975" cy="570" rx="16" ry="10"/><text x="975" y="570">CXADR</text></g>
<g id="n-VLDLR" class="n"><ellipse cx="865" cy="578" rx="16" ry="10"/><text x="865" y="578">VLDLR</text></g>
<g id="n-APOC1" class="n"><ellipse cx="911" cy="593" rx="16" ry="10"/><text x="911" y="593">APOC1</text></g>
<g id="n-APOD" class="n"><ellipse cx="858" cy="608" rx="16" ry="10"/><text x="858" y="608">APOD</text></g>
<g id="n-LRP1" class="n"><ellipse cx="647" cy="477" rx="16" ry="10"/><text x="647" y="477">LRP1</text></g>
<g id="n-LDLR" class="n m"><ellipse cx="758" cy="482" rx="20" ry="12"/><text x="758" y="482">LDLR</text></g>
<g id="n-PON1" class="n"><ellipse cx="595" cy="491" rx="16" ry="10"/><text x="595" y="491">PON1</text></g>
<g id="n-PLAU" class="n"><ellipse cx="702" cy="496" rx="17" ry="11"/><text x="702" y="496">PLAU</text></g>
<g id="n-PON2" class="n"><ellipse cx="653" cy="508" rx="16" ry="10"/><text x="653" y="508">PON2</text></g>
<g id="n-CYP46A1" class="n"><ellipse cx="745" cy="513" rx="16" ry="10"/><text x="745" y="513">CYP46A1</text></g>
<g id="n-PLG" class="n"><ellipse cx="592" cy="523" rx="16" ry="10"/><text x="592" y="523">PLG</text></g>
<g id="n-ECE1" class="n"><ellipse cx="695" cy="526" rx="16" ry="10"/><text x="695" y="526">ECE1</text></g>
<g id="n-PGRMC1" class="n"><ellipse cx="640" cy="537" rx="16" ry="10"/><text x="640" y="537">PGRMC1</text></g>
<g id="n-NPC1" class="n"><ellipse cx="777" cy="537" rx="16" ry="10"/><text x="777" y="537">NPC1</text></g>
<g id="n-OLR1" class="n"><ellipse cx="727" cy="549" rx="16" ry="10"/><text x="727" y="549">OLR1</text></g>
<g id="n-SIGLEC14" class="n"><ellipse cx="820" cy="553" rx="16" ry="10"/><text x="820" y="553">SIGLEC14</text></g>
<g id="n-HMGCR" class="n m"><ellipse cx="603" cy="558" rx="19" ry="12"/><text x="603" y="558">HMGCR</text></g>
<g id="n-GALP" class="n"><ellipse cx="677" cy="557" rx="16" ry="10"/><text x="677" y="557">GALP</text></g>
<g id="n-CR1" class="n"><ellipse cx="767" cy="572" rx="16" ry="10"/><text x="767" y="572">CR1</text></g>
<g id="n-CST3" class="n"><ellipse cx="710" cy="579" rx="17" ry="11"/><text x="710" y="579">CST3</text></g>
<g id="n-AHSG" class="n"><ellipse cx="613" cy="590" rx="16" ry="10"/><text x="613" y="590">AHSG</text></g>
<g id="n-SREBF2" class="n"><ellipse cx="667" cy="586" rx="16" ry="10"/><text x="667" y="586">SREBF2</text></g>
<g id="n-PLA2G7" class="n"><ellipse cx="822" cy="590" rx="16" ry="10"/><text x="822" y="590">PLA2G7</text></g>
<g id="n-MBTPS1" class="n"><ellipse cx="760" cy="602" rx="16" ry="10"/><text x="760" y="602">MBTPS1</text></g>
<g id="n-LPA" class="n"><ellipse cx="612" cy="620" rx="16" ry="10"/><text x="612" y="620">LPA</text></g>
<g id="n-RBP4" class="n"><ellipse cx="660" cy="617" rx="16" ry="10"/><text x="660" y="617">RBP4</text></g>
<g id="n-A2M" class="n"><ellipse cx="715" cy="615" rx="17" ry="11"/><text x="715" y="615">A2M</text></g>
<g id="n-QIG25" class="n"><ellipse cx="805" cy="620" rx="16" ry="10"/><text x="805" y="620">QIG25</text></g>
<g id="n-CETP" class="n"><ellipse cx="759" cy="635" rx="16" ry="10"/><text x="759" y="635">CETP</text></g>
<g id="n-ABCA1" class="n m"><ellipse cx="595" cy="652" rx="20" ry="12"/><text x="595" y="652">ABCA1</text></g>
<g id="n-APOA1" class="n m"><ellipse cx="657" cy="648" rx="20" ry="12"/><text x="657" y="648">APOA1</text></g>
<g id="n-ABCG5" class="n"><ellipse cx="710" cy="648" rx="17" ry="11"/><text x="710" y="648">ABCG5</text></g>
<g id="n-APOA4" class="n"><ellipse cx="805" cy="651" rx="16" ry="10"/><text x="805" y="651">APOA4</text></g>
<g id="n-DHCR24" class="n"><ellipse cx="758" cy="668" rx="16" ry="10"/><text x="758" y="668">DHCR24</text></g>
<g id="n-CFH" class="n"><ellipse cx="650" cy="683" rx="16" ry="10"/><text x="650" y="683">CFH</text></g>
<g id="n-ABCA4" class="n"><ellipse cx="702" cy="681" rx="16" ry="10"/><text x="702" y="681">ABCA4</text></g>
<g id="n-ABCA12" class="n"><ellipse cx="585" cy="685" rx="16" ry="10"/><text x="585" y="685">ABCA12</text></g>
<g id="n-SLC2A4" class="n"><ellipse cx="295" cy="470" rx="16" ry="10"/><text x="295" y="470">SLC2A4</text></g>
<g id="n-KL" class="n"><ellipse cx="392" cy="473" rx="16" ry="10"/><text x="392" y="473">KL</text></g>
<g id="n-F3" class="n"><ellipse cx="422" cy="503" rx="16" ry="10"/><text x="422" y="503">F3</text></g>
<g id="n-ACE" class="n"><polygon points="461,496 461,522 497,509"/><text x="477" y="509">ACE</text></g>
<g id="n-ALOX5" class="n"><ellipse cx="435" cy="533" rx="16" ry="10"/><text x="435" y="533">ALOX5</text></g>
<g id="n-IL10" class="n"><ellipse cx="498" cy="543" rx="16" ry="10"/><text x="498" y="543">IL10</text></g>
<g id="n-CASP4" class="n"><ellipse cx="548" cy="544" rx="16" ry="10"/><text x="548" y="544">CASP4</text></g>
<g id="n-CCR5" class="n"><ellipse cx="295" cy="553" rx="16" ry="10"/><text x="295" y="553">CCR5</text></g>
<g id="n-ADIPOQ" class="n"><ellipse cx="395" cy="557" rx="16" ry="10"/><text x="395" y="557">ADIPOQ</text></g>
<g id="n-PCK1" class="n"><ellipse cx="342" cy="567" rx="16" ry="10"/><text x="342" y="567">PCK1</text></g>
<g id="n-CSF2" class="n"><ellipse cx="455" cy="565" rx="16" ry="10"/><text x="455" y="565">CSF2</text></g>
<g id="n-CX3CR1" class="n"><ellipse cx="503" cy="573" rx="16" ry="10"/><text x="503" y="573">CX3CR1</text></g>
<g id="n-LBP" class="n"><ellipse cx="555" cy="574" rx="16" ry="10"/><text x="555" y="574">LBP</text></g>
<g id="n-KNG1" class="n"><ellipse cx="300" cy="587" rx="16" ry="10"/><text x="300" y="587">KNG1</text></g>
<g id="n-MPO" class="n"><ellipse cx="410" cy="587" rx="16" ry="10"/><text x="410" y="587">MPO</text></g>
<g id="n-CCL2" class="n"><ellipse cx="463" cy="595" rx="17" ry="11"/><text x="463" y="595">CCL2</text></g>
<g id="n-CCR2" class="n"><ellipse cx="360" cy="600" rx="16" ry="10"/><text x="360" y="600">CCR2</text></g>
<g id="n-TLR2" class="n"><ellipse cx="515" cy="608" rx="16" ry="10"/><text x="515" y="608">TLR2</text></g>
<g id="n-NLRP3" class="n"><ellipse cx="562" cy="605" rx="16" ry="10"/><text x="562" y="605">NLRP3</text></g>
<g id="n-PLIN1" class="n"><ellipse cx="317" cy="620" rx="16" ry="10"/><text x="317" y="620">PLIN1</text></g>
<g id="n-IL18" class="n"><ellipse cx="402" cy="623" rx="16" ry="10"/><text x="402" y="623">IL18</text></g>
<g id="n-PPARA" class="n"><polygon points="441,613 441,639 477,626"/><text x="457" y="626">PPARA</text></g>
<g id="n-IL33" class="n"><ellipse cx="358" cy="638" rx="16" ry="10"/><text x="358" y="638">IL33</text></g>
<g id="n-LPL" class="n"><ellipse cx="552" cy="637" rx="16" ry="10"/><text x="552" y="637">LPL</text></g>
<g id="n-FLVCR1" class="n"><ellipse cx="495" cy="643" rx="16" ry="10"/><text x="495" y="643">FLVCR1</text></g>
<g id="n-SIGLEC8" class="n"><ellipse cx="398" cy="662" rx="16" ry="10"/><text x="398" y="662">SIGLEC8</text></g>
<g id="n-AGPS" class="n"><ellipse cx="445" cy="657" rx="16" ry="10"/><text x="445" y="657">AGPS</text></g>
<g id="n-CH25H" class="n"><ellipse cx="542" cy="666" rx="16" ry="10"/><text x="542" y="666">CH25H</text></g>
<g id="n-KIF3" class="n"><ellipse cx="490" cy="674" rx="16" ry="10"/><text x="490" y="674">KIF3</text></g>
<g id="n-BDNF" class="h"><ellipse cx="297" cy="298" rx="26" ry="15"/><text x="297" y="298" style="font-size:11px">BDNF</text></g>
<g id="n-GAPDH" class="h"><ellipse cx="342" cy="403" rx="36" ry="25"/><text x="342" y="403" style="font-size:19px">GAPDH</text></g>
<g id="n-INS" class="h"><ellipse cx="342" cy="515" rx="41" ry="27"/><text x="342" y="515" style="font-size:22px">INS</text></g>
<g id="n-APP" class="h"><ellipse cx="829" cy="504" rx="37" ry="24"/><text x="829" y="504" style="font-size:21px">APP</text></g>
<g id="n-APOE" class="h"><ellipse cx="923" cy="317" rx="36" ry="22"/><text x="923" y="317" style="font-size:20px">APOE</text></g>
<g id="n-CLU" class="h"><ellipse cx="917" cy="520" rx="22" ry="14"/><text x="917" y="520" style="font-size:12px">CLU</text></g>
<g id="n-TLR4" class="h"><ellipse cx="547" cy="470" rx="21" ry="13"/><text x="547" y="470" style="font-size:11px">TLR4</text></g>
<g id="n-CAT" class="h"><polygon points="116,355 116,386 155,370"/><text x="128" y="370" style="font-size:12px">CAT</text></g>
<g id="n-CASP3" class="h"><polygon points="445,337 445,365 484,351"/><text x="462" y="351" style="font-size:11px">CASP3</text></g>
<g id="n-IGF1" class="h"><polygon points="388,425 388,450 423,437"/><text x="400" y="437" style="font-size:9px">IGF1</text></g>
<g id="n-TNF" class="h"><polygon points="542,410 542,440 582,425"/><text x="557" y="425" style="font-size:13px">TNF</text></g>
<g id="n-IL6" class="h"><polygon points="443,454 443,488 487,471"/><text x="460" y="471" style="font-size:12.5px">IL6</text></g>
<g id="n-VEGFA" class="h"><polygon points="524,494 524,523 563,508"/><text x="541" y="508" style="font-size:12px">VEGFA</text></g>
<g id="n-LEP" class="h"><polygon points="247,595 247,623 283,608"/><text x="259" y="608" style="font-size:10.5px">LEP</text></g>
</svg>
